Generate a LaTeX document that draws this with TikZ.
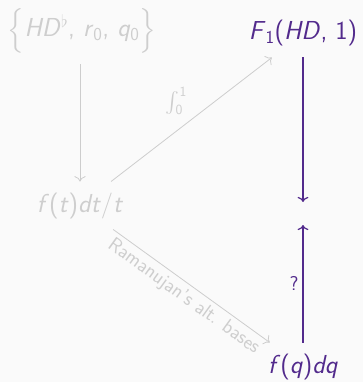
\documentclass[tikz,border=0pt]{standalone}
\usepackage{amsmath}
\usepackage{fontspec}
\usetikzlibrary{arrows.meta}
\definecolor{lg}{RGB}{206,206,206}
\definecolor{lgline}{RGB}{205,205,205}
\definecolor{pp}{RGB}{82,42,140}
\definecolor{bg}{RGB}{250,250,250}
\newcommand\sv[1]{\textit{#1\/}}
\begin{document}
\begin{tikzpicture}[x=1pt,y=-1pt,
  cell/.style={inner sep=11pt, outer sep=0pt, anchor=base, font=\fontsize{26}{30}\selectfont\sffamily},
  lab/.style={font=\fontsize{20}{24}\selectfont\sffamily, inner sep=4pt},
  garr/.style={draw=lgline, line width=0.8pt, -{To[scale=1.6]}},
  parr/.style={draw=pp, line width=1.2pt, -{To[scale=1.2]}}
]
\fill[bg] (0,0) rectangle (363,382);
\useasboundingbox (0,0) rectangle (363,382);
\node[cell, text=lg] (a) at (82,37) {$\Big\{$\sv{HD}\textsuperscript{$\flat$}, \sv{r}\textsubscript{0}, \sv{q}\textsubscript{0}$\Big\}$};
\node[cell, text=pp] (b) at (303,40) {\sv{F}\textsubscript{1}(\sv{HD}, 1)};
\node[cell, text=lg] (c) at (80,212) {\sv{f}(\sv{t})\sv{dt}/\sv{t}};
\node[cell, text=pp] (d) at (303,373) {\sv{f}(\sv{q})\sv{dq}};
\coordinate (m1) at (303,202);
\coordinate (m2) at (303,225);
\draw[garr] (a.south -| c) -- (c);
\draw[garr] (c) -- (b) node[lab, midway, anchor=south east, text=lg] {$\int_{\text{\sffamily 0}}^{\text{\sffamily 1}}$};
\draw[garr] (c) -- (d) node[lab, midway, sloped, below, text=lg] {Ramanujan's alt. bases};
\draw[parr] (b) -- (m1);
\draw[parr] (d) -- (m2) node[lab, midway, left, text=pp] {?};
\end{tikzpicture}
\end{document}
